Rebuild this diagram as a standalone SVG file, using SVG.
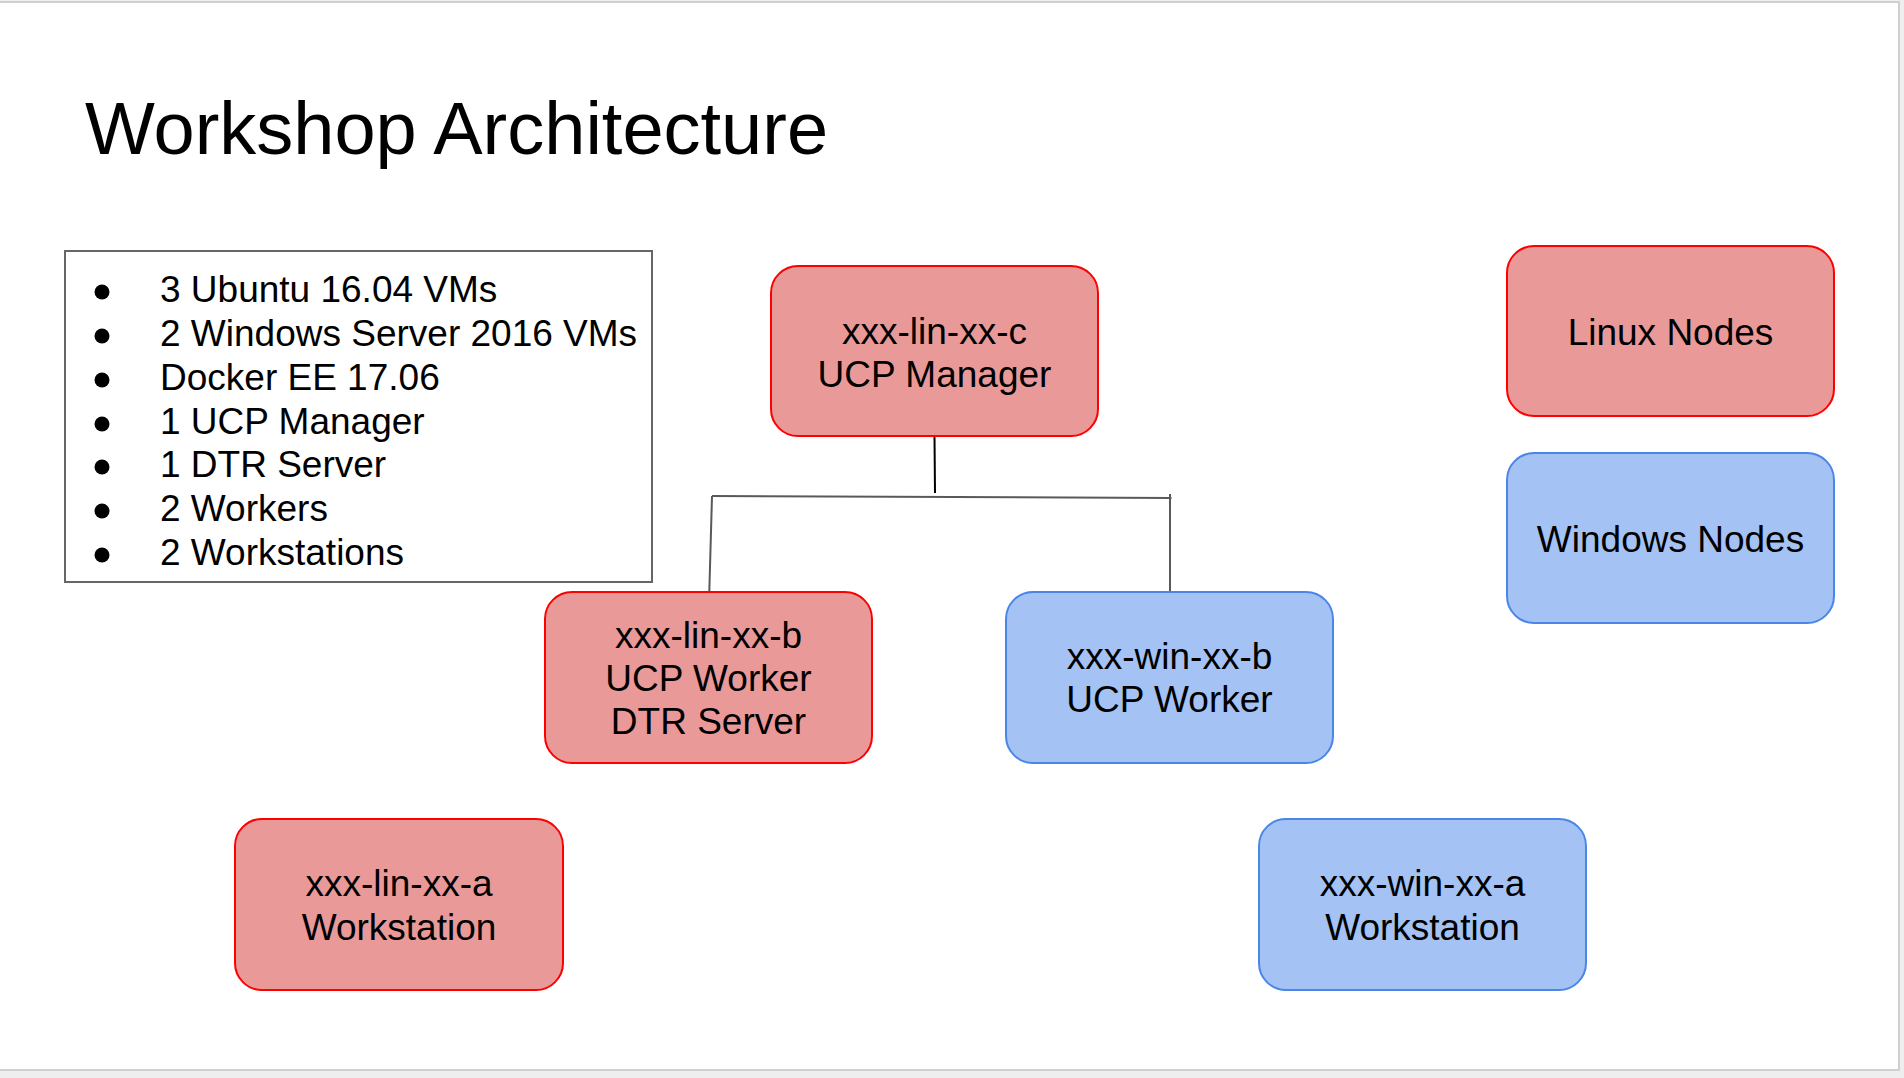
<svg xmlns="http://www.w3.org/2000/svg" width="1904" height="1078" viewBox="0 0 1904 1078">
<style>
text{font-family:"Liberation Sans",Arial,sans-serif;fill:#000}
.t{font-size:37px;text-anchor:middle}
.b{font-size:37px}
.lin{fill:#ea9999;stroke:#ff0000;stroke-width:2}
.win{fill:#a4c2f4;stroke:#4a86e8;stroke-width:2}
.c{stroke:#595959;stroke-width:2;fill:none}
</style>
<rect x="0" y="0" width="1904" height="1078" fill="#eeeeee"/>
<rect x="-1" y="2" width="1900" height="1068" fill="#ffffff" stroke="#d0d0d0" stroke-width="2"/>
<text x="85" y="154" style="font-size:74px">Workshop Architecture</text>
<g id="specs">
<rect x="65" y="251" width="587" height="331" fill="none" stroke="#666666" stroke-width="2"/>
<g fill="#000">
<circle cx="102" cy="292" r="7.5"/>
<circle cx="102" cy="336" r="7.5"/>
<circle cx="102" cy="380" r="7.5"/>
<circle cx="102" cy="424" r="7.5"/>
<circle cx="102" cy="467" r="7.5"/>
<circle cx="102" cy="511" r="7.5"/>
<circle cx="102" cy="555" r="7.5"/>
</g>
<text class="b" x="160" y="302">3 Ubuntu 16.04 VMs</text>
<text class="b" x="160" y="346">2 Windows Server 2016 VMs</text>
<text class="b" x="160" y="390">Docker EE 17.06</text>
<text class="b" x="160" y="434">1 UCP Manager</text>
<text class="b" x="160" y="477">1 DTR Server</text>
<text class="b" x="160" y="521">2 Workers</text>
<text class="b" x="160" y="565">2 Workstations</text>
</g>
<g id="connectors">
<path d="M934.5 437 L935 493" stroke="#000" stroke-width="2" fill="none"/>
<path class="c" d="M712 496 L1171.5 498"/>
<path class="c" d="M712 496 L709.3 592"/>
<path class="c" d="M1170 494 L1170 592"/>
</g>
<g id="manager">
<rect class="lin" x="771" y="266" width="327" height="170" rx="27"/>
<text class="t" x="934.5" y="344">xxx-lin-xx-c</text>
<text class="t" x="934.5" y="387">UCP Manager</text>
</g>
<g id="linux-legend">
<rect class="lin" x="1507" y="246" width="327" height="170" rx="27"/>
<text class="t" x="1670.5" y="345">Linux Nodes</text>
</g>
<g id="windows-legend">
<rect class="win" x="1507" y="453" width="327" height="170" rx="27"/>
<text class="t" x="1670.5" y="552">Windows Nodes</text>
</g>
<g id="lin-b">
<rect class="lin" x="545" y="592" width="327" height="171" rx="27"/>
<text class="t" x="708.5" y="648">xxx-lin-xx-b</text>
<text class="t" x="708.5" y="691">UCP Worker</text>
<text class="t" x="708.5" y="734">DTR Server</text>
</g>
<g id="win-b">
<rect class="win" x="1006" y="592" width="327" height="171" rx="27"/>
<text class="t" x="1169.5" y="669">xxx-win-xx-b</text>
<text class="t" x="1169.5" y="712">UCP Worker</text>
</g>
<g id="lin-a">
<rect class="lin" x="235" y="819" width="328" height="171" rx="27"/>
<text class="t" x="399" y="896">xxx-lin-xx-a</text>
<text class="t" x="399" y="940">Workstation</text>
</g>
<g id="win-a">
<rect class="win" x="1259" y="819" width="327" height="171" rx="27"/>
<text class="t" x="1422.5" y="896">xxx-win-xx-a</text>
<text class="t" x="1422.5" y="940">Workstation</text>
</g>
</svg>
